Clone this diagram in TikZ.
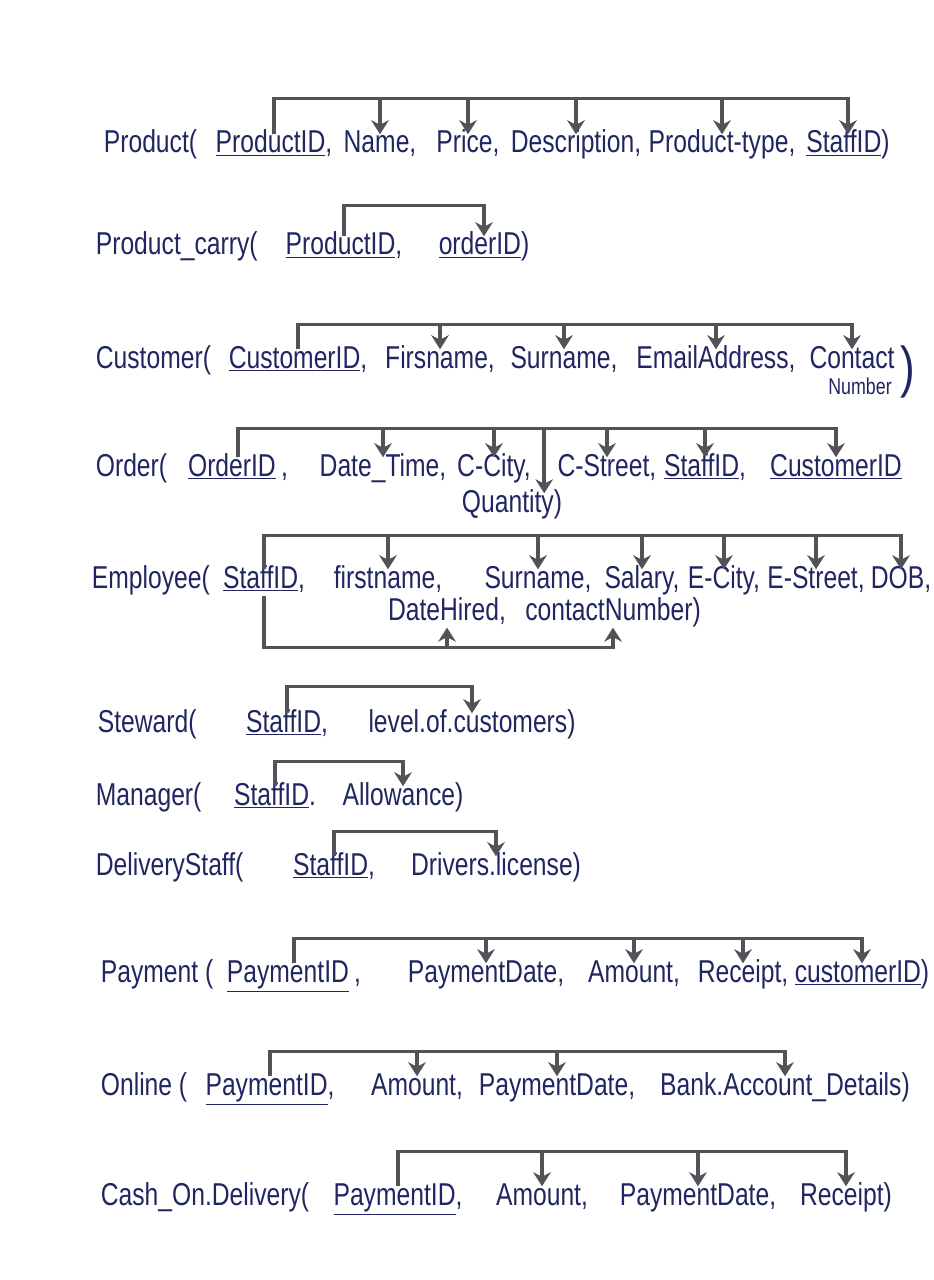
\documentclass[tikz,border=0pt]{standalone}
\usepackage{fontspec}
\setmainfont{Liberation Sans}[FakeStretch=0.78]
\usetikzlibrary{arrows.meta,positioning,calc}
\definecolor{ink}{RGB}{32,38,98}
\definecolor{pen}{RGB}{82,82,88}
\newcommand{\hand}{\fontsize{18}{21}\selectfont}
\tikzset{
  rel/.style={anchor=base west,inner sep=2pt,text=ink,font=\hand},
  attr/.style={anchor=base,inner sep=2pt,text=ink,font=\hand,text height=1.6ex,text depth=0.4ex},
  fd/.style={draw=pen,line width=2pt,line join=miter,-{Stealth[length=8pt,width=10pt]}}
}

\begin{document}
\begin{tikzpicture}[x=0.02cm,y=-0.02cm]
  \fill[white] (0,0) rectangle (933,1280);
  \useasboundingbox (0,0) rectangle (933,1280);

  % Product
  \node[rel] (prod) at (100,153) {Product(};
  \node[attr] (pid) at (274,153) {\underline{ProductID},};
  \node[attr] (pnm) at (380,153) {Name,};
  \node[attr] (ppr) at (468,153) {Price,};
  \node[attr] (pde) at (576,153) {Description,};
  \node[attr] (pty) at (722,153) {Product-type,};
  \node[attr] (psf) at (848,153) {\underline{StaffID})};
  \draw[fd] (pid.north) -- ++(0,-36) -| (pnm.north);
  \draw[fd] (pid.north) -- ++(0,-36) -| (ppr.north);
  \draw[fd] (pid.north) -- ++(0,-36) -| (pde.north);
  \draw[fd] (pid.north) -- ++(0,-36) -| (pty.north);
  \draw[fd] (pid.north) -- ++(0,-36) -| (psf.north);

  % Product_carry
  \node[rel] (pc) at (92,255) {Product\_carry(};
  \node[attr] (pcp) at (344,255) {\underline{ProductID},};
  \node[attr] (pco) at (484,255) {\underline{orderID})};
  \draw[fd] (pcp.north) -- ++(0,-31) -| (pco.north);

  % Customer
  \node[rel] (cust) at (92,368) {Customer(};
  \node[attr] (cid) at (298,368) {\underline{CustomerID},};
  \node[attr] (cfn) at (440,368) {Firsname,};
  \node[attr] (csn) at (564,368) {Surname,};
  \node[attr] (cem) at (716,368) {EmailAddress,};
  \node[attr] (cct) at (852,368) {Contact};
  \node[attr,font=\fontsize{13}{15}\selectfont] (ccn) at (860,394) {Number};
  \node[text=ink,font=\fontsize{32}{34}\selectfont] (ccp) at (908,372) {)};
  \draw[fd] (cid.north) -- ++(0,-25) -| (cfn.north);
  \draw[fd] (cid.north) -- ++(0,-25) -| (csn.north);
  \draw[fd] (cid.north) -- ++(0,-25) -| (cem.north);
  \draw[fd] (cid.north) -- ++(0,-25) -| (cct.north);

  % Order
  \node[rel] (ord) at (92,476) {Order(};
  \node[attr] (oid) at (238,476) {\underline{OrderID}\,,};
  \node[attr] (odt) at (383,476) {Date\_Time,};
  \node[attr] (occ) at (494,476) {C-City,};
  \node[attr] (ocs) at (607,476) {C-Street,};
  \node[attr] (osf) at (705,476) {\underline{StaffID},};
  \node[attr] (ocu) at (836,476) {\underline{CustomerID}};
  \node[attr] (oqu) at (512,512) {Quantity)};
  \coordinate (oq) at ($(occ.east)!.5!(ocs.west)$);
  \draw[fd] (oid.north) -- ++(0,-29) -| (odt.north);
  \draw[fd] (oid.north) -- ++(0,-29) -| (occ.north);
  \draw[fd] (oid.north) -- ++(0,-29) -| (oq |- oqu.north);
  \draw[fd] (oid.north) -- ++(0,-29) -| (ocs.north);
  \draw[fd] (oid.north) -- ++(0,-29) -| (osf.north);
  \draw[fd] (oid.north) -- ++(0,-29) -| (ocu.north);

  % Employee
  \node[rel] (emp) at (88,588) {Employee(};
  \node[attr] (eid) at (264,588) {\underline{StaffID},};
  \node[attr] (efn) at (388,588) {firstname,};
  \node[attr] (esn) at (538,588) {Surname,};
  \node[attr] (esa) at (642,588) {Salary,};
  \node[attr] (eci) at (724,588) {E-City,};
  \node[attr] (est) at (816,588) {E-Street,};
  \node[attr] (edo) at (901,588) {DOB,};
  \node[attr] (edh) at (447,620) {DateHired,};
  \node[attr] (ecn) at (613,620) {contactNumber)};
  \draw[fd] (eid.north) -- ++(0,-34) -| (efn.north);
  \draw[fd] (eid.north) -- ++(0,-34) -| (esn.north);
  \draw[fd] (eid.north) -- ++(0,-34) -| (esa.north);
  \draw[fd] (eid.north) -- ++(0,-34) -| (eci.north);
  \draw[fd] (eid.north) -- ++(0,-34) -| (est.north);
  \draw[fd] (eid.north) -- ++(0,-34) -| (edo.north);
  \draw[fd] (eid.south) -- ++(0,52) -| (edh.south);
  \draw[fd] (eid.south) -- ++(0,52) -| (ecn.south);

  % Steward
  \node[rel] (stw) at (94,732) {Steward(};
  \node[attr] (swid) at (287,732) {\underline{StaffID},};
  \node[attr] (swlv) at (472,732) {level.of.customers)};
  \draw[fd] (swid.north) -- ++(0,-27) -| (swlv.north);

  % Manager
  \node[rel] (mgr) at (92,805) {Manager(};
  \node[attr] (mgid) at (275,805) {\underline{StaffID}.};
  \node[attr] (mgal) at (403,805) {Allowance)};
  \draw[fd] (mgid.north) -- ++(0,-25) -| (mgal.north);

  % DeliveryStaff
  \node[rel] (dst) at (92,875) {DeliveryStaff(};
  \node[attr] (dsid) at (334,875) {\underline{StaffID},};
  \node[attr] (dsdl) at (496,875) {Drivers.license)};
  \draw[fd] (dsid.north) -- ++(0,-25) -| (dsdl.north);

  % Payment
  \node[rel] (pay) at (97,982) {Payment (};
  \node[attr] (pyid) at (294,982) {\underline{PaymentID}\,,};
  \node[attr] (pydt) at (486,982) {PaymentDate,};
  \node[attr] (pyam) at (634,982) {Amount,};
  \node[attr] (pyrc) at (743,982) {Receipt,};
  \node[attr] (pycu) at (862,982) {\underline{customerID})};
  \draw[fd] (pyid.north) -- ++(0,-25) -| (pydt.north);
  \draw[fd] (pyid.north) -- ++(0,-25) -| (pyam.north);
  \draw[fd] (pyid.north) -- ++(0,-25) -| (pyrc.north);
  \draw[fd] (pyid.north) -- ++(0,-25) -| (pycu.north);

  % Online
  \node[rel] (onl) at (97,1095) {Online (};
  \node[attr] (olid) at (270,1095) {\underline{PaymentID},};
  \node[attr] (olam) at (417,1095) {Amount,};
  \node[attr] (oldt) at (557,1095) {PaymentDate,};
  \node[attr] (olbk) at (785,1095) {Bank.Account\_Details)};
  \draw[fd] (olid.north) -- ++(0,-25) -| (olam.north);
  \draw[fd] (olid.north) -- ++(0,-25) -| (oldt.north);
  \draw[fd] (olid.north) -- ++(0,-25) -| (olbk.north);

  % Cash_On.Delivery
  \node[rel] (cod) at (97,1205) {Cash\_On.Delivery(};
  \node[attr] (cdid) at (398,1205) {\underline{PaymentID},};
  \node[attr] (cdam) at (542,1205) {Amount,};
  \node[attr] (cddt) at (698,1205) {PaymentDate,};
  \node[attr] (cdrc) at (846,1205) {Receipt)};
  \draw[fd] (cdid.north) -- ++(0,-35) -| (cdam.north);
  \draw[fd] (cdid.north) -- ++(0,-35) -| (cddt.north);
  \draw[fd] (cdid.north) -- ++(0,-35) -| (cdrc.north);
\end{tikzpicture}
\end{document}
